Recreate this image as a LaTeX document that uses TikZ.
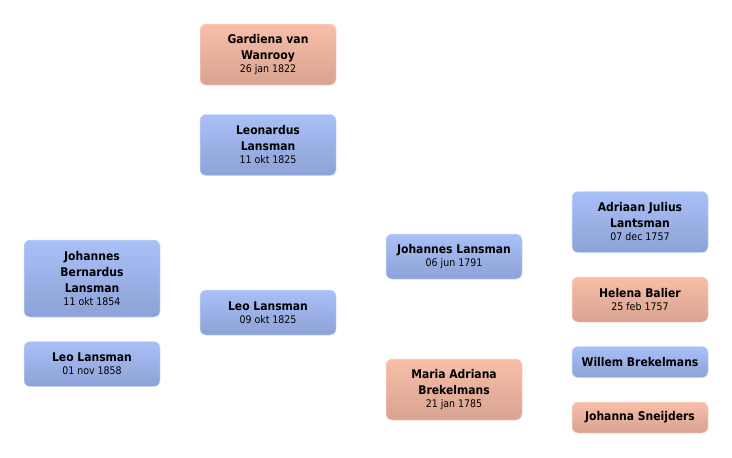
\documentclass[tikz,border=0pt]{standalone}
\usepackage{fontspec}
\setmainfont{DejaVu Sans Condensed}
\usetikzlibrary{positioning}

\definecolor{mantop}{HTML}{A9C0F7}
\definecolor{manbot}{HTML}{8DA2D6}
\definecolor{vrouwtop}{HTML}{F8BEA8}
\definecolor{vrouwbot}{HTML}{D8A391}

\newcommand{\datum}{\fontsize{10.5}{13}\selectfont\mdseries}

\begin{document}
\begin{tikzpicture}[x=1pt,y=-1pt,node distance=24pt,
    persoon/.style={rectangle,rounded corners=6pt,minimum width=136pt,
        inner xsep=2pt,inner ysep=0pt,align=center,
        font=\fontsize{12}{16}\selectfont\bfseries},
    man/.style={persoon,top color=mantop,bottom color=manbot,draw=mantop!60!white,line width=0.5pt},
    vrouw/.style={persoon,top color=vrouwtop,bottom color=vrouwbot,draw=vrouwtop!60!white,line width=0.5pt}]

            \useasboundingbox (0,0) rectangle (732,458);

            % kinderen

            \node[man,minimum height=77pt]  (johannesB) at (92,278.5)       {Johannes\\ Bernardus\\ Lansman\\[-3pt] \datum 11 okt 1854};

            \node[man,minimum height=45pt]  (leoL) [below=of johannesB]     {Leo Lansman\\[-3pt] \datum 01 nov 1858};

            % ouders

            \node[vrouw,minimum height=61pt] (gardiena) at (268,54.5)       {Gardiena van\\ Wanrooy\\[-3pt] \datum 26 jan 1822};

            \node[man,minimum height=61pt]  (leonardus) [below=29pt of gardiena] {Leonardus\\ Lansman\\[-3pt] \datum 11 okt 1825};

            \node[man,minimum height=45pt]  (leoM) at (268,312.5)           {Leo Lansman\\[-3pt] \datum 09 okt 1825};

            % grootouders

            \node[man,minimum height=45pt]  (johannesL) at (454,256.5)      {Johannes Lansman\\[-3pt] \datum 06 jun 1791};

            \node[vrouw,minimum height=61pt] (maria) at (454,389.5)         {Maria Adriana\\ Brekelmans\\[-3pt] \datum 21 jan 1785};

            % overgrootouders

            \node[man,minimum height=61pt]  (adriaan) at (640,222)          {Adriaan Julius\\ Lantsman\\[-3pt] \datum 07 dec 1757};

            \node[vrouw,minimum height=45pt] (helena) [below=of adriaan]    {Helena Balier\\[-3pt] \datum 25 feb 1757};

            \node[man,minimum height=31pt]  (willem) [below=of helena]      {Willem Brekelmans};

            \node[vrouw,minimum height=31pt] (johanna) [below=of willem]    {Johanna Sneijders};

        \end{tikzpicture}
\end{document}
